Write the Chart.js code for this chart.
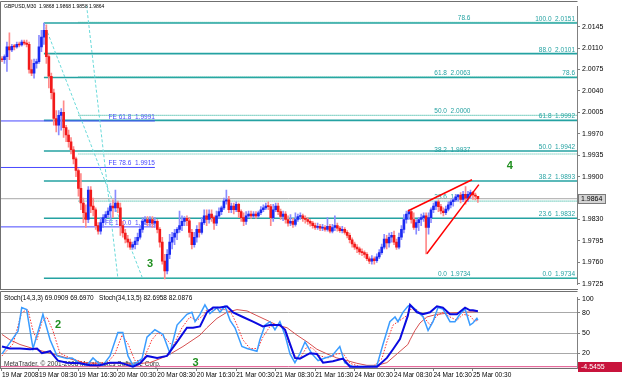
<!DOCTYPE html>
<html>
<head>
<meta charset="utf-8">
<title>GBPUSD M30</title>
<script src="https://cdn.jsdelivr.net/npm/chart.js@4.4.1/dist/chart.umd.min.js"></script>
<style>
  html, body { margin:0; padding:0; background:#ffffff; }
  #wrap { position:relative; width:625px; height:380px; overflow:hidden; background:#ffffff; }
  #main { position:absolute; left:0; top:0; }
  #osc  { position:absolute; left:0; top:291px; }
</style>
</head>
<body>
<div id="wrap">
  <canvas id="main" width="625" height="291"></canvas>
  <canvas id="osc" width="625" height="89"></canvas>
</div>
<script>
// ================= DATA =================
const symbol = 'GBPUSD,M30';

const opens = [
2.0092,2.0091,2.0096,2.0112,2.0107,2.0113,2.0112,2.0116,2.0115,2.0120,
2.0118,2.0116,2.0075,2.0069,2.0085,2.0088,2.0112,2.0128,2.0139,2.0096,
2.0064,2.0037,1.9995,1.9984,2.0000,2.0005,1.9980,1.9968,1.9957,1.9944,
1.9929,1.9910,1.9881,1.9857,1.9841,1.9830,1.9878,1.9852,1.9846,1.9820,
1.9811,1.9825,1.9833,1.9838,1.9844,1.9852,1.9849,1.9857,1.9849,1.9820,
1.9808,1.9798,1.9793,1.9785,1.9789,1.9795,1.9801,1.9814,1.9827,1.9830,
1.9825,1.9830,1.9824,1.9827,1.9814,1.9793,1.9762,1.9746,1.9773,1.9793,
1.9801,1.9808,1.9814,1.9820,1.9827,1.9832,1.9828,1.9809,1.9789,1.9801,
1.9814,1.9809,1.9825,1.9836,1.9830,1.9839,1.9833,1.9824,1.9836,1.9843,
1.9849,1.9860,1.9862,1.9846,1.9852,1.9846,1.9855,1.9843,1.9833,1.9827,
1.9836,1.9839,1.9836,1.9839,1.9836,1.9841,1.9846,1.9849,1.9852,1.9851,
1.9833,1.9846,1.9852,1.9843,1.9835,1.9839,1.9830,1.9824,1.9827,1.9822,
1.9830,1.9835,1.9836,1.9832,1.9830,1.9827,1.9824,1.9820,1.9817,1.9819,
1.9816,1.9817,1.9814,1.9819,1.9811,1.9817,1.9820,1.9816,1.9812,1.9814,
1.9809,1.9804,1.9797,1.9790,1.9785,1.9782,1.9777,1.9776,1.9773,1.9766,
1.9762,1.9766,1.9763,1.9769,1.9776,1.9785,1.9798,1.9792,1.9801,1.9804,
1.9793,1.9785,1.9801,1.9814,1.9830,1.9839,1.9843,1.9830,1.9817,1.9825,
1.9830,1.9833,1.9836,1.9817,1.9833,1.9846,1.9852,1.9859,1.9851,1.9844,
1.9841,1.9847,1.9854,1.9859,1.9862,1.9867,1.9870,1.9863,1.9871,1.9865,
1.9871,1.9874,1.9870,1.9868];

const highs = [
2.0096,2.0099,2.0120,2.0135,2.0116,2.0116,2.0120,2.0120,2.0123,2.0123,
2.0123,2.0120,2.0091,2.0092,2.0092,2.0131,2.0139,2.0151,2.0148,2.0100,
2.0069,2.0043,2.0008,2.0008,2.0011,2.0024,1.9984,1.9976,1.9964,1.9949,
1.9932,1.9913,1.9905,1.9865,1.9854,1.9884,1.9884,1.9865,1.9849,1.9825,
1.9833,1.9838,1.9843,1.9849,1.9857,1.9862,1.9878,1.9860,1.9857,1.9827,
1.9814,1.9804,1.9798,1.9793,1.9801,1.9808,1.9820,1.9833,1.9835,1.9835,
1.9835,1.9835,1.9833,1.9830,1.9817,1.9801,1.9773,1.9781,1.9806,1.9809,
1.9814,1.9817,1.9844,1.9836,1.9835,1.9836,1.9833,1.9814,1.9809,1.9820,
1.9825,1.9833,1.9846,1.9846,1.9846,1.9846,1.9836,1.9844,1.9849,1.9852,
1.9865,1.9878,1.9868,1.9857,1.9857,1.9859,1.9857,1.9846,1.9841,1.9843,
1.9844,1.9844,1.9843,1.9843,1.9844,1.9851,1.9854,1.9857,1.9859,1.9855,
1.9855,1.9857,1.9857,1.9847,1.9844,1.9843,1.9836,1.9838,1.9832,1.9841,
1.9839,1.9841,1.9839,1.9836,1.9833,1.9830,1.9827,1.9824,1.9824,1.9822,
1.9822,1.9820,1.9833,1.9822,1.9822,1.9836,1.9824,1.9819,1.9819,1.9817,
1.9812,1.9808,1.9800,1.9793,1.9789,1.9785,1.9782,1.9779,1.9776,1.9769,
1.9771,1.9769,1.9774,1.9781,1.9790,1.9806,1.9804,1.9808,1.9809,1.9811,
1.9798,1.9808,1.9820,1.9838,1.9844,1.9846,1.9846,1.9841,1.9830,1.9833,
1.9839,1.9841,1.9841,1.9841,1.9849,1.9857,1.9860,1.9862,1.9855,1.9849,
1.9852,1.9859,1.9862,1.9865,1.9871,1.9871,1.9874,1.9876,1.9884,1.9876,
1.9878,1.9876,1.9873,1.9868];

const lows = [
2.0088,2.0085,2.0072,2.0091,2.0104,2.0107,2.0110,2.0112,2.0113,2.0115,
2.0112,2.0069,2.0065,2.0061,2.0077,2.0085,2.0104,2.0116,2.0085,2.0045,
2.0027,1.9984,1.9973,1.9968,1.9976,1.9964,1.9957,1.9948,1.9937,1.9921,
1.9900,1.9868,1.9846,1.9825,1.9817,1.9825,1.9841,1.9836,1.9814,1.9806,
1.9806,1.9817,1.9827,1.9833,1.9830,1.9833,1.9843,1.9841,1.9804,1.9801,
1.9792,1.9785,1.9781,1.9781,1.9782,1.9789,1.9798,1.9809,1.9822,1.9820,
1.9819,1.9817,1.9817,1.9808,1.9785,1.9757,1.9733,1.9741,1.9766,1.9782,
1.9789,1.9797,1.9809,1.9812,1.9820,1.9820,1.9801,1.9782,1.9785,1.9793,
1.9801,1.9806,1.9822,1.9820,1.9824,1.9827,1.9814,1.9820,1.9832,1.9838,
1.9846,1.9855,1.9841,1.9841,1.9839,1.9843,1.9833,1.9827,1.9820,1.9822,
1.9833,1.9832,1.9833,1.9832,1.9833,1.9838,1.9843,1.9846,1.9846,1.9820,
1.9827,1.9843,1.9838,1.9830,1.9828,1.9824,1.9819,1.9820,1.9817,1.9819,
1.9827,1.9830,1.9827,1.9824,1.9822,1.9819,1.9816,1.9814,1.9814,1.9812,
1.9812,1.9811,1.9811,1.9808,1.9808,1.9812,1.9811,1.9809,1.9808,1.9806,
1.9800,1.9792,1.9785,1.9781,1.9776,1.9773,1.9771,1.9768,1.9763,1.9758,
1.9757,1.9757,1.9760,1.9766,1.9773,1.9782,1.9782,1.9785,1.9793,1.9789,
1.9781,1.9782,1.9797,1.9808,1.9824,1.9830,1.9824,1.9814,1.9806,1.9812,
1.9820,1.9827,1.9774,1.9806,1.9825,1.9841,1.9846,1.9843,1.9839,1.9836,
1.9838,1.9844,1.9849,1.9852,1.9859,1.9860,1.9857,1.9859,1.9855,1.9859,
1.9865,1.9863,1.9862,1.9858];

const closes = [
2.0091,2.0096,2.0112,2.0107,2.0113,2.0112,2.0116,2.0115,2.0120,2.0118,
2.0116,2.0075,2.0069,2.0085,2.0088,2.0112,2.0128,2.0139,2.0096,2.0064,
2.0037,1.9995,1.9984,2.0000,2.0005,1.9980,1.9968,1.9957,1.9944,1.9929,
1.9910,1.9881,1.9857,1.9841,1.9830,1.9878,1.9852,1.9846,1.9820,1.9811,
1.9825,1.9833,1.9838,1.9844,1.9852,1.9849,1.9857,1.9849,1.9820,1.9808,
1.9798,1.9793,1.9785,1.9789,1.9795,1.9801,1.9814,1.9827,1.9830,1.9825,
1.9830,1.9824,1.9827,1.9814,1.9793,1.9762,1.9746,1.9773,1.9793,1.9801,
1.9808,1.9814,1.9820,1.9827,1.9832,1.9828,1.9809,1.9789,1.9801,1.9814,
1.9809,1.9825,1.9836,1.9830,1.9839,1.9833,1.9824,1.9836,1.9843,1.9849,
1.9860,1.9862,1.9846,1.9852,1.9846,1.9855,1.9843,1.9833,1.9827,1.9836,
1.9839,1.9836,1.9839,1.9836,1.9841,1.9846,1.9849,1.9852,1.9851,1.9833,
1.9846,1.9852,1.9843,1.9835,1.9839,1.9830,1.9824,1.9827,1.9822,1.9830,
1.9835,1.9836,1.9832,1.9830,1.9827,1.9824,1.9820,1.9817,1.9819,1.9816,
1.9817,1.9814,1.9819,1.9811,1.9817,1.9820,1.9816,1.9812,1.9814,1.9809,
1.9804,1.9797,1.9790,1.9785,1.9782,1.9777,1.9776,1.9773,1.9766,1.9762,
1.9766,1.9763,1.9769,1.9776,1.9785,1.9798,1.9792,1.9801,1.9804,1.9793,
1.9785,1.9801,1.9814,1.9830,1.9839,1.9843,1.9830,1.9817,1.9825,1.9830,
1.9833,1.9836,1.9817,1.9833,1.9846,1.9852,1.9859,1.9851,1.9844,1.9841,
1.9847,1.9854,1.9859,1.9862,1.9867,1.9870,1.9863,1.9871,1.9865,1.9871,
1.9874,1.9870,1.9868,1.9864];

const priceTicks = [2.0145,2.0110,2.0075,2.0040,2.0005,1.9970,1.9935,1.9900,1.9830,1.9795,1.9760,1.9725];
const bidPrice = 1.9864;

const timeTickBars = [0,15,31,47,63,79,95,111,127,143,159,175,191];
const timeTickLabels = ['19 Mar 2008','19 Mar 08:30','19 Mar 16:30','20 Mar 00:30','20 Mar 08:30','20 Mar 16:30',
  '21 Mar 00:30','21 Mar 08:30','21 Mar 16:30','24 Mar 00:30','24 Mar 08:30','24 Mar 16:30','25 Mar 00:30'];

// Fibonacci retracement (high 2.0151 -> low 1.9734), anchored at bar 17
const rightFibStart = 17;
const rightFibLevels = [2.0151,2.0101,2.0062,1.9992,1.9942,1.9893,1.9832,1.9734];
const rightFibLabels = ['100.0  2.0151','88.0  2.0101','78.6','61.8  1.9992','50.0  1.9942','38.2  1.9893','23.6  1.9832','0.0  1.9734'];
// second Fibonacci object, anchored at bar 31
const midFibStart = 31;
const midFibLevels = [2.0152,2.0063,2.0000,1.9937,1.9860,1.9734];
const midFibLabels = ['78.6','61.8  2.0063','50.0  2.0000','38.2  1.9937','23.6  1.9860','0.0  1.9734'];
// Fibonacci expansion levels, ending at bar 62
const feEnd = 62;
const feLevels = [1.9991,1.9915,1.9818];
const feLabels = ['FE 61.8  1.9991','FE 78.6  1.9915','FE 100.0  1.9818'];

// drawn trend objects [bar, price]
const fanLine1 = [[17,2.0151],[57,1.9734]];
const fanLine2 = [[34.3,2.0180],[47,1.9734]];
const wedgeUpper = [[164.6,1.9844],[190.6,1.9895]];
const wedgeLower = [[172.3,1.9774],[193.4,1.9887]];

// Stochastic oscillators [bar, value]
const stochFastMain = [[0,19],[6.5,53],[8,88],[10,85],[12,40],[12.6,27],[15.4,62],[16.6,78],[19.5,40],[22.3,16],[26.4,12],[28.4,13],[31.6,5],[34.5,2],[36.9,13],[38.9,6],[41,2],[43.8,16],[47,51],[49,51],[51.1,16],[53.1,2],[56.8,12],[58.8,44],[62,55],[65.3,48],[68.1,20],[71,62],[75,78],[77,81],[78.3,67],[80.3,78],[82.3,92],[84.3,79],[87.2,88],[88.4,81],[90.4,90],[92.5,69],[94.5,58],[97.3,30],[99.4,27],[103.4,23],[104.6,40],[106.7,62],[108.7,67],[110.7,55],[112.7,67],[114.8,47],[116.8,19],[118.8,6],[120.8,19],[122.9,37],[125.7,19],[128.2,9],[131,13],[133.8,16],[137,30],[139,6],[142.3,0],[146.4,0],[152,1],[154.5,33],[157.3,67],[159.4,74],[160.6,67],[162.6,81],[164.6,90],[165.5,92],[167.5,86],[170.8,74],[172.8,54],[174.8,67],[176.8,88],[178.8,86],[181.7,67],[183.7,67],[185.7,78],[187.8,86],[189.8,62],[191,65],[192.6,72],[193,69.1]];
const stochFastSignal = [[0,16],[4.5,34],[8,81],[10.5,85],[12.6,53],[14.2,40],[16.2,67],[18.2,74],[20.7,53],[23.5,20],[27.6,13],[31.6,8],[35.7,4],[39.7,6],[42.6,5],[45.8,19],[48.7,47],[51.1,34],[53.9,9],[57.2,9],[60.8,40],[63.3,51],[66.9,40],[69.3,30],[73,58],[76.2,74],[79.1,69],[81.5,76],[83.1,85],[85.6,85],[88.4,85],[91.2,85],[93.3,78],[95.3,62],[97.7,40],[100.6,27],[103.8,27],[105.8,44],[108.7,60],[111.5,62],[114,58],[116,37],[118.8,16],[120.8,12],[123.7,30],[126.1,27],[129,16],[132.2,13],[135.8,19],[138.3,20],[141.1,5],[145.2,0],[150.4,0],[154.1,12],[156.1,37],[158.6,62],[161.4,69],[164.2,76],[165.5,85],[168.3,85],[171.5,72],[173.6,62],[176.4,76],[178.8,81],[181.7,74],[184.5,69],[187,78],[189.8,76],[191.8,67],[193,69.7]];
const stochSlowMain = [[0,30],[3.2,27],[7.3,27],[11.4,26],[14.2,27],[16.2,20],[19.5,23],[22.7,9],[26.4,6],[31.6,5],[35.7,2],[39.7,2],[43.8,6],[47.9,6],[53.1,0],[56,5],[58.8,16],[62.9,13],[66.9,16],[71,37],[75,58],[77.5,58],[80.3,60],[83.1,81],[85.6,88],[88.4,88],[91.2,90],[93.7,81],[97.7,74],[101.8,67],[105.8,60],[108.7,62],[112.7,62],[114.8,55],[116.8,34],[118.8,13],[120.8,12],[124.9,20],[127.7,19],[130.2,6],[134.2,8],[138.3,12],[141.1,0],[146.4,0],[152.1,0],[156.1,13],[158.6,26],[161.4,41],[164.6,76],[165.5,92],[168.3,81],[170.7,78],[173.6,81],[176.4,90],[178.8,88],[181.7,78],[184.5,78],[187.8,88],[189.8,84],[191,84],[193,82.7]];
const stochSlowSignal = [[0,48],[3.2,40],[7.3,33],[12.6,27],[19.5,20],[26.4,13],[32.8,6],[39.7,5],[46.6,5],[53.1,4],[60,6],[66.9,16],[73.4,30],[80.3,47],[83.1,58],[87.2,72],[91.2,81],[95.3,85],[99.4,83],[103.4,76],[107.5,69],[111.5,62],[115.6,58],[119.6,47],[123.7,37],[127.7,26],[131.8,19],[135.8,13],[139.9,9],[143.9,5],[148,2],[152.1,2],[156.1,6],[160.2,19],[164.6,33],[165.5,40],[167.5,54],[169.5,65],[172.3,74],[176.4,78],[181.7,80],[187,81],[193,82.1]];
const stochBaseLevel = 0;
const stochTicks = [20,50,80,100];
const stochLegend = 'Stoch(14,3,3) 69.0909 69.6970   Stoch(34,13,5) 82.6958 82.0876';
const stochLastLabel = '-4.5455';
const copyright = 'MetaTrader, \u00A9 2001-2008 MetaQuotes Software Corp.';

// ================= LAYOUT / STYLE =================
const FONT = '"Liberation Sans", Arial, sans-serif';
const XMIN = -0.81, XMAX = 233.2;
const PMIN = 1.97234, PMAX = 2.01784;
const SMIN = -2, SMAX = 103.5;
const AXIS_W = 48;
const BULL = '#1a2af2', BEAR = '#f21a1a', DOJI = '#2a9a2a';
const BULL_WICK = '#8a8cff', BEAR_WICK = '#ff8a8a';
const TEAL = '#24a2a2', TEAL2 = '#3bb8a4', FEBLUE = '#4848ff';

Chart.defaults.font.family = FONT;

function dir(i){ return closes[i] > opens[i] ? 1 : (closes[i] < opens[i] ? -1 : 0); }
const pairs = a => a.map(p => ({x:p[0], y:p[1]}));
const hline = (x0, x1, v) => [{x:x0,y:v},{x:x1,y:v}];

function lineDs(data, color, width, dash, order){
  return {type:'line', data, borderColor:color, borderWidth:width, borderDash:dash||[],
          pointRadius:0, fill:false, tension:0, order:order, spanGaps:false};
}

const mainDatasets = [];
rightFibLevels.forEach(v => mainDatasets.push(lineDs(hline(rightFibStart, XMAX, v), TEAL, 1.6, [], 20)));
midFibLevels.forEach(v => mainDatasets.push(lineDs(hline(midFibStart, XMAX, v), TEAL2, 1.2, [1,1], 19)));
feLevels.forEach(v => mainDatasets.push(lineDs(hline(XMIN, feEnd, v), FEBLUE, 1, [], 18)));
mainDatasets.push(lineDs(hline(XMIN, XMAX, bidPrice), '#a8a8a8', 1, [], 18));
mainDatasets.push(lineDs(pairs(fanLine1), '#6adada', 1, [3,2], 17));
mainDatasets.push(lineDs(pairs(fanLine2), '#6adada', 1, [3,2], 17));
mainDatasets.push({
  type:'bar', order:6, grouped:false, barThickness:1,
  data: highs.map((h,i)=>({x:i, y:[lows[i], h]})),
  backgroundColor: ctx => dir(ctx.dataIndex) >= 0 ? BULL_WICK : BEAR_WICK
});
mainDatasets.push({
  type:'bar', order:5, grouped:false, barThickness:2, minBarLength:1,
  data: opens.map((o,i)=>({x:i, y:[Math.min(o,closes[i]), Math.max(o,closes[i])]})),
  backgroundColor: ctx => { const d = dir(ctx.dataIndex); return d > 0 ? BULL : (d < 0 ? BEAR : DOJI); }
});
mainDatasets.push(lineDs(pairs(wedgeUpper), '#ff0000', 1.5, [], 1));
mainDatasets.push(lineDs(pairs(wedgeLower), '#ff0000', 1.5, [], 1));

const mainPlugin = {
  id:'mainDecor',
  beforeDatasetsDraw(chart){
    const {ctx, scales:{x,y}, chartArea:a} = chart;
    ctx.save();
    ctx.font = '6.5px ' + FONT;
    ctx.textBaseline = 'alphabetic';
    ctx.textAlign = 'right';
    ctx.fillStyle = TEAL;
    rightFibLevels.forEach((v,i)=> ctx.fillText(rightFibLabels[i], a.right - 2, y.getPixelForValue(v) - 2));
    midFibLevels.forEach((v,i)=> ctx.fillText(midFibLabels[i], x.getPixelForValue(190), y.getPixelForValue(v) - 2));
    ctx.fillStyle = FEBLUE;
    feLevels.forEach((v,i)=> ctx.fillText(feLabels[i], x.getPixelForValue(feEnd), y.getPixelForValue(v) - 2));
    ctx.restore();
  },
  afterDatasetsDraw(chart){
    const {ctx, scales:{x,y}} = chart;
    ctx.save();
    // wave labels
    ctx.font = 'bold 11px ' + FONT;
    ctx.fillStyle = '#1f8f1f';
    ctx.textAlign = 'center'; ctx.textBaseline = 'middle';
    ctx.fillText('3', x.getPixelForValue(60), y.getPixelForValue(1.9757));
    ctx.fillText('4', x.getPixelForValue(206), y.getPixelForValue(1.9918));
    // title
    const last = closes.length - 1;
    const title = symbol + '  ' + opens[last].toFixed(4) + ' ' + highs[last].toFixed(4) + ' ' + lows[last].toFixed(4) + ' ' + closes[last].toFixed(4);
    ctx.font = '5px ' + FONT;
    ctx.fillStyle = '#000';
    ctx.textAlign = 'left';
    ctx.fillText(title, 4, 7);
    ctx.restore();
  },
  afterDraw(chart){
    const {ctx, scales:{y}, chartArea:a} = chart;
    ctx.save();
    ctx.strokeStyle = '#707070'; ctx.lineWidth = 1;
    ctx.beginPath();
    ctx.moveTo(0.5, 289.5); ctx.lineTo(0.5, 1.5); ctx.lineTo(a.right + 0.5, 1.5);
    ctx.moveTo(0, 289.5); ctx.lineTo(a.right + 1, 289.5);
    ctx.stroke();
    // bid price box
    const py = Math.round(y.getPixelForValue(bidPrice));
    ctx.fillStyle = '#d4d4d4'; ctx.strokeStyle = '#7a7a7a';
    ctx.fillRect(a.right + 1, py - 5, 28, 10);
    ctx.strokeRect(a.right + 1.5, py - 4.5, 27, 9);
    ctx.fillStyle = '#000'; ctx.font = '7px ' + FONT;
    ctx.textAlign = 'left'; ctx.textBaseline = 'middle';
    ctx.fillText(bidPrice.toFixed(4), a.right + 4, py + 0.5);
    ctx.restore();
  }
};

new Chart(document.getElementById('main'), {
  type:'bar',
  data:{ datasets: mainDatasets },
  options:{
    responsive:false, animation:false, events:[],
    layout:{ padding:{ left:0, right:0, top:3, bottom:2 } },
    plugins:{ legend:{display:false}, tooltip:{enabled:false} },
    scales:{
      x:{ type:'linear', min:XMIN, max:XMAX, offset:false, display:false, grid:{display:false} },
      y:{ type:'linear', position:'right', min:PMIN, max:PMAX,
          afterFit: s => { s.width = AXIS_W; },
          afterBuildTicks: s => { s.ticks = priceTicks.map(v => ({value:v})); },
          ticks:{ autoSkip:false, color:'#000', padding:2, font:{size:7, family:FONT}, callback: v => Number(v).toFixed(4) },
          grid:{ drawOnChartArea:false, tickLength:3, color:'#808080' },
          border:{ display:true, color:'#808080' } }
    }
  },
  plugins:[mainPlugin]
});

// ================= OSCILLATOR =================
const oscPlugin = {
  id:'oscDecor',
  beforeDatasetsDraw(chart){
    const {ctx} = chart;
    ctx.save();
    ctx.font = '6.5px ' + FONT; ctx.fillStyle = '#000';
    ctx.textAlign = 'left'; ctx.textBaseline = 'middle';
    ctx.fillText(stochLegend, 4, 7);
    ctx.fillStyle = '#303030';
    ctx.fillText(copyright, 4, 73);
    ctx.restore();
  },
  afterDatasetsDraw(chart){
    const {ctx, scales:{x,y}} = chart;
    ctx.save();
    ctx.font = 'bold 11px ' + FONT; ctx.fillStyle = '#1f8f1f';
    ctx.textAlign = 'center'; ctx.textBaseline = 'middle';
    ctx.fillText('2', x.getPixelForValue(22.7), y.getPixelForValue(62));
    ctx.fillText('3', x.getPixelForValue(78.5), y.getPixelForValue(6));
    ctx.restore();
  },
  afterDraw(chart){
    const {ctx, scales:{y}, chartArea:a} = chart;
    ctx.save();
    ctx.strokeStyle = '#707070'; ctx.lineWidth = 1;
    ctx.beginPath();
    ctx.moveTo(0.5, a.bottom); ctx.lineTo(0.5, 0.5); ctx.lineTo(a.right + 0.5, 0.5);
    ctx.stroke();
    const py = Math.round(y.getPixelForValue(stochBaseLevel));
    ctx.fillStyle = '#c8143c';
    ctx.fillRect(a.right + 1, py - 5, 44, 10);
    ctx.fillStyle = '#fff'; ctx.font = '7px ' + FONT;
    ctx.textAlign = 'left'; ctx.textBaseline = 'middle';
    ctx.fillText(stochLastLabel, a.right + 4, py + 0.5);
    ctx.restore();
  }
};

new Chart(document.getElementById('osc'), {
  type:'line',
  data:{ datasets:[
    lineDs(hline(XMIN, XMAX, stochBaseLevel), '#e0508a', 1, [], 10),
    lineDs(pairs(stochSlowSignal), '#d65050', 1, [], 5),
    lineDs(pairs(stochFastSignal), '#ff3030', 1, [1.5,1.5], 4),
    lineDs(pairs(stochFastMain), '#3a9cff', 1.5, [], 3),
    lineDs(pairs(stochSlowMain), '#0a0ae0', 2, [], 2)
  ]},
  options:{
    responsive:false, animation:false, events:[],
    layout:{ padding:{ left:0, right:0, top:1, bottom:0 } },
    plugins:{ legend:{display:false}, tooltip:{enabled:false} },
    scales:{
      x:{ type:'linear', min:XMIN, max:XMAX, offset:false, position:'bottom',
          afterFit: s => { s.height = 12; },
          afterBuildTicks: s => { s.ticks = timeTickBars.map(v => ({value:v})); },
          ticks:{ autoSkip:false, maxRotation:0, minRotation:0, align:'start', padding:0, color:'#000',
                  font:{size:6.5, family:FONT}, callback: (v, i) => timeTickLabels[i] },
          grid:{ drawOnChartArea:false, tickLength:3, color:'#808080' },
          border:{ display:true, color:'#707070' } },
      y:{ type:'linear', position:'right', min:SMIN, max:SMAX,
          afterFit: s => { s.width = AXIS_W; },
          afterBuildTicks: s => { s.ticks = stochTicks.map(v => ({value:v})); },
          ticks:{ autoSkip:false, color:'#000', padding:2, font:{size:7, family:FONT}, callback: v => String(v) },
          grid:{ drawOnChartArea:true, tickLength:3, color: c => (c.tick && c.tick.value === 100) ? 'rgba(0,0,0,0)' : '#a8a8a8',
                 tickColor:'#808080', borderDash:[2,2] },
          border:{ display:true, color:'#808080', dash:[] } }
    }
  },
  plugins:[oscPlugin]
});
</script>
</body>
</html>
